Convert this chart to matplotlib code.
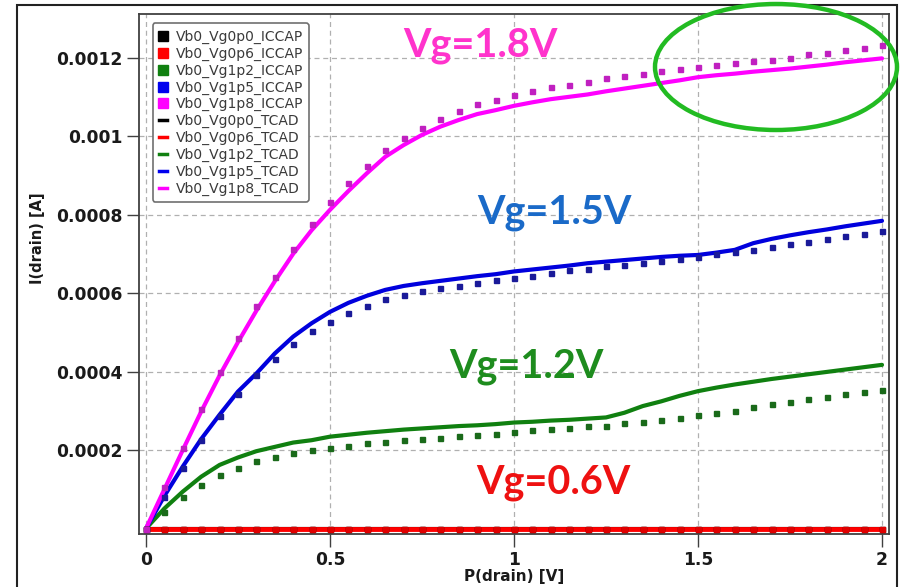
import numpy as np
import matplotlib
matplotlib.use("Agg")
import matplotlib.pyplot as plt
from matplotlib.patches import Ellipse, Rectangle
from matplotlib.lines import Line2D

# ---------------- data ----------------
vd = [round(0.05 * i, 2) for i in range(41)]

i_vg0p0_iccap = [0.0] * 41
i_vg0p6_iccap = [0.0] * 41
i_vg1p2_iccap = [0, 0.41, 0.81, 1.10, 1.36, 1.55, 1.73, 1.83, 1.93, 2.00, 2.05, 2.11, 2.17, 2.21,
                 2.25, 2.28, 2.31, 2.35, 2.37, 2.41, 2.46, 2.51, 2.53, 2.55, 2.60, 2.62, 2.68, 2.72,
                 2.76, 2.81, 2.89, 2.95, 3.00, 3.09, 3.16, 3.22, 3.30, 3.35, 3.43, 3.47, 3.52]
i_vg1p5_iccap = [0, 0.81, 1.55, 2.25, 2.87, 3.43, 3.91, 4.33, 4.70, 5.02, 5.27, 5.50, 5.66, 5.84,
                 5.94, 6.05, 6.12, 6.18, 6.26, 6.32, 6.38, 6.44, 6.51, 6.58, 6.62, 6.68, 6.72, 6.77,
                 6.82, 6.87, 6.93, 6.99, 7.05, 7.09, 7.17, 7.24, 7.31, 7.37, 7.45, 7.51, 7.58]
i_vg1p8_iccap = [0, 1.05, 2.06, 3.04, 3.98, 4.85, 5.66, 6.42, 7.11, 7.76, 8.32, 8.81, 9.23, 9.64,
                 9.94, 10.21, 10.43, 10.64, 10.81, 10.91, 11.05, 11.14, 11.26, 11.31, 11.39, 11.48,
                 11.54, 11.58, 11.66, 11.70, 11.75, 11.81, 11.87, 11.90, 11.95, 12.00, 12.09, 12.12,
                 12.19, 12.25, 12.33]

i_vg0p0_tcad = [0.0] * 41
i_vg0p6_tcad = [0.0] * 41
i_vg1p2_tcad = [0, 0.51, 0.94, 1.32, 1.62, 1.81, 1.97, 2.08, 2.19, 2.25, 2.34, 2.39, 2.44, 2.48,
                2.52, 2.55, 2.58, 2.61, 2.63, 2.66, 2.70, 2.72, 2.75, 2.77, 2.80, 2.83, 2.95, 3.12,
                3.24, 3.38, 3.50, 3.59, 3.67, 3.74, 3.81, 3.87, 3.93, 3.99, 4.05, 4.11, 4.17]
i_vg1p5_tcad = [0, 0.83, 1.58, 2.28, 2.90, 3.49, 3.95, 4.46, 4.89, 5.23, 5.52, 5.75, 5.93, 6.08,
                6.18, 6.25, 6.31, 6.37, 6.43, 6.48, 6.55, 6.60, 6.65, 6.70, 6.76, 6.80, 6.84, 6.88,
                6.92, 6.95, 6.97, 7.03, 7.10, 7.27, 7.38, 7.47, 7.55, 7.62, 7.70, 7.77, 7.84]
i_vg1p8_tcad = [0, 1.00, 2.00, 2.98, 3.90, 4.75, 5.55, 6.30, 7.00, 7.60, 8.12, 8.60, 9.05, 9.47,
                9.77, 10.03, 10.24, 10.41, 10.56, 10.66, 10.77, 10.86, 10.94, 11.00, 11.06, 11.14,
                11.21, 11.28, 11.35, 11.42, 11.50, 11.55, 11.59, 11.64, 11.68, 11.72, 11.77, 11.82,
                11.88, 11.93, 11.98]

scale = 1e-4
xticks = [0, 0.5, 1, 1.5, 2]
xticklabels = ["0", "0.5", "1", "1.5", "2"]
yticks = [0.0002, 0.0004, 0.0006, 0.0008, 0.001, 0.0012]
yticklabels = ["0.0002", "0.0004", "0.0006", "0.0008", "0.001", "0.0012"]

iccap_names = ["Vb0_Vg0p0_ICCAP", "Vb0_Vg0p6_ICCAP", "Vb0_Vg1p2_ICCAP", "Vb0_Vg1p5_ICCAP", "Vb0_Vg1p8_ICCAP"]
tcad_names = ["Vb0_Vg0p0_TCAD", "Vb0_Vg0p6_TCAD", "Vb0_Vg1p2_TCAD", "Vb0_Vg1p5_TCAD", "Vb0_Vg1p8_TCAD"]

# ---------------- styling ----------------
line_colors = ["#000000", "#ff0000", "#108010", "#0000dd", "#ff00ff"]
dot_colors = ["#000000", "#e00000", "#1a6a1a", "#1a1a99", "#c020c0"]
leg_colors = ["#000000", "#ff0000", "#108010", "#0000ee", "#ff00ff"]

fig = plt.figure(figsize=(9.01, 5.87), dpi=100)
ax = fig.add_axes([139 / 901, 1 - 534 / 587, 750 / 901, 520 / 587])

vd_arr = np.array(vd)
iccap = [i_vg0p0_iccap, i_vg0p6_iccap, i_vg1p2_iccap, i_vg1p5_iccap, i_vg1p8_iccap]
tcad = [i_vg0p0_tcad, i_vg0p6_tcad, i_vg1p2_tcad, i_vg1p5_tcad, i_vg1p8_tcad]

for k in range(5):
    lw = 3.0 if k != 1 else 3.5
    ax.plot(vd_arr, np.array(tcad[k]) * scale, color=line_colors[k], lw=lw,
            solid_capstyle="round", zorder=3 + k * 0.1)
for k in range(5):
    ax.plot(vd_arr, np.array(iccap[k]) * scale, ls="none", marker="s", ms=3.6,
            color=dot_colors[k], mec=dot_colors[k], zorder=4 + k * 0.1)

ax.set_xlim(-0.019, 2.019)
ax.set_ylim(-1.4e-5, 1.311e-3)
ax.set_xticks(xticks)
ax.set_xticklabels(xticklabels)
ax.set_yticks(yticks)
ax.set_yticklabels(yticklabels)
ax.grid(True, ls=(0, (4, 3)), color="#b0b0b0", lw=0.9)
ax.set_axisbelow(True)
for s in ax.spines.values():
    s.set_color("#404040")
    s.set_linewidth(1.3)
ax.tick_params(axis="both", direction="out", length=9, width=1.0, color="#404040",
               labelsize=12.3, labelcolor="#1a1a1a", pad=3)
for lab in ax.get_xticklabels() + ax.get_yticklabels():
    lab.set_fontweight("bold")

ax.set_xlabel("P(drain) [V]", fontsize=11, fontweight="bold", color="#1a1a1a", labelpad=0)
ax.set_ylabel("I(drain) [A]", fontsize=10.5, fontweight="bold", color="#1a1a1a", labelpad=12)
ax.yaxis.set_label_coords(-0.125, (534 - 238) / 520)

# legend
handles = []
labels = []
for k in range(5):
    handles.append(Line2D([], [], ls="none", marker="s", ms=7.5, color=leg_colors[k]))
    labels.append(iccap_names[k])
for k in range(5):
    handles.append(Line2D([], [], lw=2.5, color=leg_colors[k]))
    labels.append(tcad_names[k])
leg = ax.legend(handles, labels, loc="upper left", bbox_to_anchor=(0.018, 0.982),
                fontsize=10, handlelength=0.6, handletextpad=0.6, labelspacing=0.2,
                borderpad=0.45, frameon=True, fancybox=True, framealpha=1,
                edgecolor="#707070", borderaxespad=0)
leg.get_frame().set_linewidth(1.2)
for t in leg.get_texts():
    t.set_color("#3a3a3a")

# annotations
ann_font = dict(fontfamily="Lato", fontweight="bold", fontsize=28.5, ha="center", va="center")
ax.text(0.908, 1.232e-3, "Vg=1.8V", color="#ff33cc", **ann_font, zorder=6)
ax.text(1.111, 8.06e-4, "Vg=1.5V", color="#1a6ac8", **ann_font, zorder=6)
ax.text(1.035, 4.14e-4, "Vg=1.2V", color="#1e8c1e", **ann_font, zorder=6)
ax.text(1.106, 1.16e-4, "Vg=0.6V", color="#ee1111", **ann_font, zorder=6)

# highlight ellipse
fig.patches.append(Ellipse((776 / 901, 1 - 67 / 587), 242 / 901, 126 / 587,
                           transform=fig.transFigure, fill=False, ec="#22bb22", lw=3.2, zorder=10))
# outer frame
fig.patches.append(Rectangle((17 / 901, -0.02), 880 / 901, 1.02 - 5 / 587,
                             transform=fig.transFigure, fill=False, ec="#222222", lw=1.5, zorder=0))

fig.savefig("out.png", dpi=100)
